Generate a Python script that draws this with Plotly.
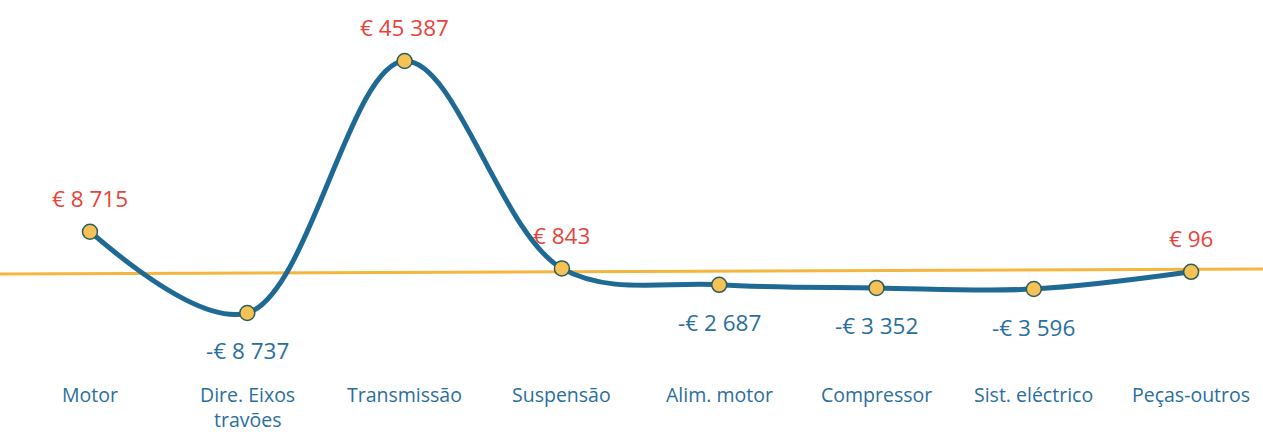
import plotly.graph_objects as go

categories = ["Motor", "Dire. Eixos<br>travões", "Transmissão", "Suspensão",
              "Alim. motor", "Compressor", "Sist. eléctrico", "Peças-outros"]
values = [8715, -8737, 45387, 843, -2687, -3352, -3596, 96]


def fmt(v):
    s = f"{abs(v):,}".replace(",", " ")
    return ("-€ " if v < 0 else "€ ") + s


W, H = 1263, 432
x = list(range(len(categories)))
XR = [-0.572, 7.457]

fig = go.Figure()
fig.add_shape(type="line", xref="x", yref="y", x0=XR[0], x1=XR[1], y0=-365, y1=709,
              line=dict(color="#F3B63F", width=3), layer="below")
fig.add_trace(go.Scatter(
    x=x, y=values, mode="lines+markers",
    line=dict(color="#1F6A95", width=5, shape="spline", smoothing=1.0),
    marker=dict(size=15, color="#F6C256", line=dict(color="#2C5E5A", width=1.5)),
    hoverinfo="skip", showlegend=False))

for i, v in enumerate(values):
    pos = v > 0
    fig.add_annotation(x=i, y=v, text=fmt(v), showarrow=False,
                       yshift=33 if pos else -38,
                       font=dict(family="Open Sans", size=22.5,
                                 color="#E8433A" if pos else "#2A6E9E"))
    for k, line in enumerate(categories[i].split("<br>")):
        fig.add_annotation(x=i, xref="x", y=1 - (394 + 25 * k) / H, yref="paper",
                           text=line, showarrow=False, yanchor="middle",
                           borderpad=0,
                           font=dict(family="Open Sans", size=19.5, color="#2A6E9E"))

fig.update_layout(
    width=W, height=H,
    margin=dict(l=0, r=0, t=0, b=0),
    paper_bgcolor="white", plot_bgcolor="white",
    xaxis=dict(range=XR, visible=False),
    yaxis=dict(range=[-34300, 58484], visible=False),
)
fig.write_html("out.html", config={"displayModeBar": False},
               post_script="document.body.style.margin='0';")
